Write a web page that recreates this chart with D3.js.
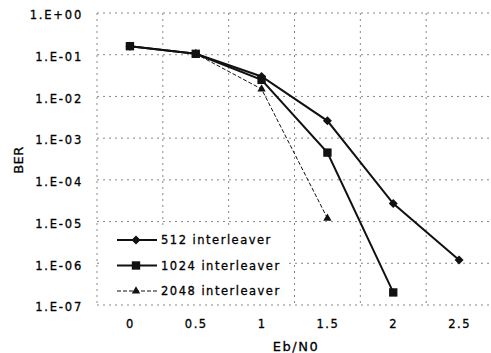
<!DOCTYPE html>
<html>
<head>
<meta charset="utf-8">
<script src="https://cdn.jsdelivr.net/npm/d3@7"></script>
<style>
  body { margin: 0; background: #fff; }
  text { font-family: "DejaVu Sans", Arial, sans-serif; fill: #000; stroke: #000; stroke-width: 0.3px; }
</style>
</head>
<body>
<div id="chart"></div>
<script>
const ebno = [0, 0.5, 1, 1.5, 2, 2.5];
const ber512 = [0.16, 0.105, 0.03, 0.0026, 2.7e-5, 1.2e-6];
const ber1024 = [0.16, 0.105, 0.025, 4.5e-4, 2.0e-7];
const ber2048 = [0.16, 0.105, 0.015, 1.2e-5];
const yTicks = [1, 1e-1, 1e-2, 1e-3, 1e-4, 1e-5, 1e-6, 1e-7];
const yTickLabels = ["1.E+00", "1.E-01", "1.E-02", "1.E-03", "1.E-04", "1.E-05", "1.E-06", "1.E-07"];
const xTickLabels = ["0", "0.5", "1", "1.5", "2", "2.5"];
const seriesNames = ["512 interleaver", "1024 interleaver", "2048 interleaver"];

const W = 491, H = 353;
const plot = { left: 97, right: 492, top: 13, bottom: 305 };

const svg = d3.select("#chart").append("svg")
  .attr("width", W)
  .attr("height", H);

const x = d3.scaleLinear().domain([-0.25, 2.75]).range([plot.left, plot.right]);
const y = d3.scaleLog().domain([1e-7, 1]).range([plot.bottom, plot.top]);

// grid
const grid = svg.append("g")
  .attr("stroke", "#888")
  .attr("stroke-width", 1)
  .attr("stroke-dasharray", "2,4");

grid.selectAll("line.h")
  .data(yTicks)
  .join("line")
  .attr("class", "h")
  .attr("x1", plot.left).attr("x2", plot.right)
  .attr("y1", d => y(d)).attr("y2", d => y(d));

grid.selectAll("line.v")
  .data(d3.range(-0.25, 2.76, 0.5))
  .join("line")
  .attr("class", "v")
  .attr("x1", d => x(d)).attr("x2", d => x(d))
  .attr("y1", plot.top).attr("y2", plot.bottom);

// axes
const yAxis = d3.axisLeft(y)
  .tickValues(yTicks)
  .tickFormat((d, i) => yTickLabels[i])
  .tickSize(0)
  .tickPadding(14);

svg.append("g")
  .attr("transform", `translate(${plot.left},0)`)
  .call(yAxis)
  .call(g => g.select(".domain").remove())
  .selectAll("text")
  .attr("dy", "0.5em")
  .style("font-size", "11.5px")
  .style("letter-spacing", "1.8px");

const xAxis = d3.axisBottom(x)
  .tickValues(ebno)
  .tickFormat((d, i) => xTickLabels[i])
  .tickSize(0)
  .tickPadding(15);

svg.append("g")
  .attr("transform", `translate(0,${plot.bottom})`)
  .call(xAxis)
  .call(g => g.select(".domain").remove())
  .selectAll("text")
  .style("font-size", "11.5px")
  .style("letter-spacing", "1.5px");

// axis titles
svg.append("text")
  .attr("x", 296)
  .attr("y", 351)
  .attr("text-anchor", "middle")
  .style("font-size", "13px")
  .style("letter-spacing", "1.5px")
  .text("Eb/N0");

svg.append("text")
  .attr("transform", "translate(23,160) rotate(-90)")
  .attr("text-anchor", "middle")
  .style("font-size", "13px")
  .style("letter-spacing", "0.5px")
  .text("BER");

// series
const series = [
  { name: seriesNames[0], values: ber512, symbol: d3.symbolSquare, rot: 45, size: 40, width: 2, dash: null },
  { name: seriesNames[1], values: ber1024, symbol: d3.symbolSquare, rot: 0, size: 70, width: 2, dash: null },
  { name: seriesNames[2], values: ber2048, symbol: d3.symbolTriangle, rot: 0, size: 30, width: 1, dash: "4,2" }
];

const line = d3.line()
  .x(d => x(d[0]))
  .y(d => y(d[1]));

// 1024 drawn last, its square sits on top at the shared start point
[series[2], series[0], series[1]].forEach(s => {
  const pts = s.values.map((v, i) => [ebno[i], v]);
  svg.append("path")
    .datum(pts)
    .attr("fill", "none")
    .attr("stroke", "#111")
    .attr("stroke-width", s.width)
    .attr("stroke-dasharray", s.dash)
    .attr("d", line);
  svg.append("g").selectAll("path")
    .data(pts)
    .join("path")
    .attr("transform", d => `translate(${x(d[0])},${y(d[1])}) rotate(${s.rot})`)
    .attr("d", d3.symbol().type(s.symbol).size(s.size))
    .attr("fill", "#111");
});

// legend
const legend = svg.append("g");
legend.append("rect")
  .attr("x", 99).attr("y", 226)
  .attr("width", 186).attr("height", 78)
  .attr("fill", "#fff");

series.forEach((s, i) => {
  const ly = 240 + i * 25.5;
  const row = legend.append("g").attr("transform", `translate(0,${ly})`);
  row.append("line")
    .attr("x1", 117).attr("x2", 157)
    .attr("stroke", "#111")
    .attr("stroke-width", s.width)
    .attr("stroke-dasharray", s.dash);
  row.append("path")
    .attr("transform", `translate(136,0) rotate(${s.rot})`)
    .attr("d", d3.symbol().type(s.symbol).size(s.size))
    .attr("fill", "#111");
  row.append("text")
    .attr("x", 161)
    .attr("dy", "0.35em")
    .style("font-size", "11.5px")
    .style("letter-spacing", "1.5px")
    .text(s.name);
});
</script>
</body>
</html>
